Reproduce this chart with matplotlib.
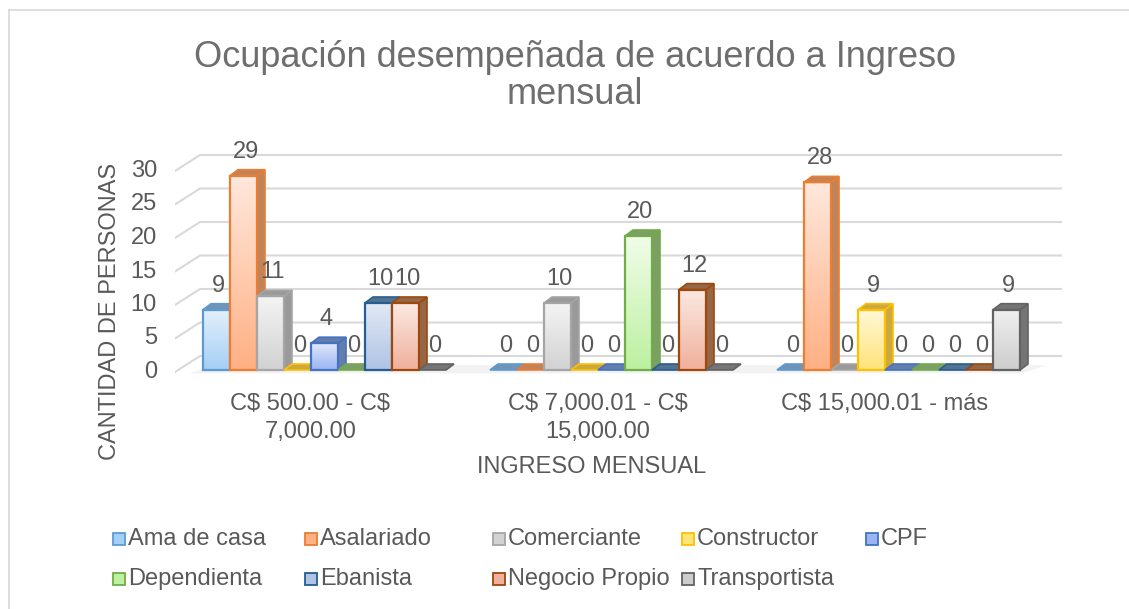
import numpy as np
import matplotlib.pyplot as plt
from matplotlib.patches import Polygon, Rectangle
from matplotlib.lines import Line2D
from matplotlib.colors import to_rgb

plt.rcParams['font.family'] = ['Liberation Sans', 'DejaVu Sans']
TXT = '#595959'

categories = ['C$ 500.00 - C$\n7,000.00', 'C$ 7,000.01 - C$\n15,000.00', 'C$ 15,000.01 - más']
series = ['Ama de casa', 'Asalariado', 'Comerciante', 'Constructor', 'CPF',
          'Dependienta', 'Ebanista', 'Negocio Propio', 'Transportista']
ama_de_casa = [9, 0, 0]
asalariado = [29, 0, 28]
comerciante = [11, 10, 0]
constructor = [0, 0, 9]
cpf = [4, 0, 0]
dependienta = [0, 20, 0]
ebanista = [10, 0, 0]
negocio_propio = [10, 12, 0]
transportista = [0, 0, 9]
values = [ama_de_casa, asalariado, comerciante, constructor, cpf,
          dependienta, ebanista, negocio_propio, transportista]
yticks = [0, 5, 10, 15, 20, 25, 30]

edge_colors = ['#5B9BD5', '#ED7D31', '#A5A5A5', '#FFC000', '#4472C4',
               '#70AD47', '#255E91', '#9E480E', '#636363']
top_fill = ['#E3F0FC', '#FFE8DC', '#F4F4F4', '#FFF8D8', '#E0E8FA',
            '#F0FDE8', '#E1E9F4', '#FBE9E2', '#F0F0F0']
bot_fill = ['#A5CFF5', '#FFB084', '#D2D2D2', '#FFE47A', '#9AB5F2',
            '#BDF0A0', '#AFC3E5', '#F0B09C', '#CDCDCD']

W, H = 1129, 609
fig = plt.figure(figsize=(W / 100, H / 100), dpi=100)

# pixel geometry of the pseudo-3D plot
x_left, px_cat = 175, 287
y_zero, px_unit = 372, 6.7
dxb, dyb = 25 / px_cat, 16 / px_unit      # back wall offset (data units)
dxd, dyd = 8 / px_cat, 6 / px_unit        # bar depth
bw = 27 / px_cat
base = 2 / px_unit                        # bars sit slightly behind front edge
xlim = (-0.5, 2.5 + dxb + 0.01)
ylim = (-1.0, 33.5)
ax = fig.add_axes([x_left / W, 1 - (y_zero - ylim[0] * px_unit) / H,
                   (xlim[1] - xlim[0]) * px_cat / W, (ylim[1] - ylim[0]) * px_unit / H])
ax.set_xlim(xlim)
ax.set_ylim(ylim)
ax.axis('off')

# gridlines on back wall + side wall diagonals
for t in yticks:
    ax.plot([xlim[0], xlim[0] + dxb, 2.5 + dxb], [t, t + dyb, t + dyb],
            color='#D9D9D9', lw=1.5, zorder=0)
    ax.text(xlim[0] - 18 / px_cat, t, str(t), ha='right', va='center',
            fontsize=17, color=TXT)

# floor shadow
ax.add_patch(Polygon([(-0.45, -0.2), (2.45, -0.2), (2.45 + dxb, 0.3 + dyb * 0.3),
                      (-0.45 + dxb, 0.3 + dyb * 0.3)], closed=True,
                     facecolor='#F2F2F2', edgecolor='none', zorder=0.5))

grey = np.array(to_rgb('#8C8C8C'))
x = np.arange(len(categories))
n = len(series)
for j in range(n):
    ec = edge_colors[j]
    shade = 0.55 * np.array(to_rgb(ec)) + 0.45 * grey
    grad = np.linspace(0, 1, 64)[:, None, None]
    img = (1 - grad) * np.array(to_rgb(bot_fill[j])) + grad * np.array(to_rgb(top_fill[j]))
    for i, v in enumerate(values[j]):
        x0 = x[i] - n * bw / 2 + j * bw + 6 / px_cat
        x1 = x0 + bw
        top = v + base
        z = 2 + j * 0.01
        if v > 0:
            ax.imshow(img, extent=(x0, x1, base, top), origin='lower', aspect='auto',
                      interpolation='bilinear', zorder=z)
            ax.bar(x0, v, width=bw, bottom=base, align='edge', facecolor='none',
                   edgecolor=ec, linewidth=1.6, zorder=z + 0.003)
            ax.add_patch(Polygon([(x1, base), (x1 + dxd, base + dyd),
                                  (x1 + dxd, top + dyd), (x1, top)],
                                 closed=True, facecolor=shade, edgecolor=ec,
                                 linewidth=1.2, zorder=z + 0.001))
        ax.add_patch(Polygon([(x0, top), (x0 + dxd, top + dyd), (x1 + dxd, top + dyd), (x1, top)],
                             closed=True, facecolor=shade, edgecolor=ec,
                             linewidth=1.2, zorder=z + 0.002))
        ax.annotate(str(v), (x0 + bw / 2 + 2 / px_cat, top + dyd), xytext=(0, 5),
                    textcoords='offset points', ha='center', va='bottom',
                    fontsize=17, color=TXT, zorder=5)

ax.set_xlim(xlim)
ax.set_ylim(ylim)

# category labels
for i, c in enumerate(categories):
    ax.text(x[i] - 8 / px_cat, -3.2, c, ha='center', va='top', fontsize=17,
            color=TXT, linespacing=1.35, parse_math=False)

fig.text(592 / W, 1 - 467 / H, 'INGRESO MENSUAL', ha='center', va='center',
         fontsize=17, color=TXT)
fig.text(110 / W, 1 - 311 / H, 'CANTIDAD DE PERSONAS', ha='center', va='center',
         rotation=90, fontsize=17, color=TXT)
fig.text(575 / W, 1 - 76 / H, 'Ocupación desempeñada de acuerdo a Ingreso\nmensual',
         ha='center', va='center', fontsize=26, color='#6E6E6E', linespacing=1.05)

# legend
leg_x = [113, 305, 493, 682, 866]
for k, name in enumerate(series):
    row, col = divmod(k, 5)
    lx = leg_x[col]
    ly = 539 + row * 40
    fig.patches.append(Rectangle((lx / W, 1 - (ly + 6) / H), 12 / W, 12 / H,
                                 transform=fig.transFigure, facecolor=bot_fill[k],
                                 edgecolor=edge_colors[k], linewidth=1.3))
    fig.text((lx + 15) / W, 1 - ly / H, name, ha='left', va='center',
             fontsize=17, color=TXT)

# chart border (top and left visible)
fig.add_artist(Line2D([9 / W, 9 / W], [0, 1 - 10 / H], color='#D9D9D9', lw=1.2))
fig.add_artist(Line2D([9 / W, 1], [1 - 10 / H, 1 - 10 / H], color='#D9D9D9', lw=1.2))

fig.savefig('out.png', dpi=100, facecolor='white')
